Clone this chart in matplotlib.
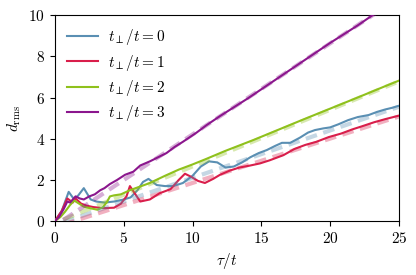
import numpy as np
import matplotlib
matplotlib.use("Agg")
import matplotlib.pyplot as plt
from matplotlib.ticker import FuncFormatter

plt.rcParams['mathtext.fontset'] = 'cm'
plt.rcParams['font.family'] = 'serif'
plt.rcParams['font.size'] = 9

# simulation curves (tau, d_rms)
tau_0 = [0, 0.5, 1.0, 1.4, 1.7, 2.1, 2.6, 3.0, 3.6, 4.3, 5.0, 5.5, 6.0, 6.4, 6.8, 7.4,
         8.0, 8.6, 9.3, 10.0, 10.6, 11.2, 11.8, 12.4, 13.0, 13.6, 14.2, 14.8, 15.4, 16.0,
         16.5, 17.1, 17.8, 18.4, 18.9, 19.5, 20.0, 20.6, 21.3, 22.0, 22.8, 23.4, 24.0, 24.5, 25.0]
d_0 = [0, 0.5, 1.42, 1.05, 1.25, 1.6, 1.05, 0.95, 0.9, 0.95, 1.05, 1.15, 1.5, 1.9, 2.05, 1.75,
       1.7, 1.7, 1.85, 2.2, 2.65, 2.9, 2.85, 2.6, 2.65, 2.85, 3.1, 3.3, 3.45, 3.65,
       3.8, 3.8, 4.05, 4.3, 4.42, 4.5, 4.55, 4.7, 4.9, 5.05, 5.15, 5.3, 5.42, 5.5, 5.6]

tau_1 = [0, 0.5, 0.9, 1.3, 1.5, 1.9, 2.3, 2.8, 3.5, 4.3, 4.8, 5.2, 5.45, 5.8, 6.2, 6.9,
         7.6, 8.4, 9.0, 9.45, 9.9, 10.4, 10.9, 11.5, 12.0, 12.7, 13.4, 14.2, 14.9, 15.6,
         16.6, 17.4, 18.2, 19.0, 19.9, 20.8, 21.6, 22.3, 23.2, 24.0, 25.0]
d_1 = [0, 0.5, 1.1, 0.9, 1.1, 0.85, 0.75, 0.68, 0.63, 0.65, 0.85, 1.2, 1.7, 1.35, 0.95, 1.05,
       1.35, 1.55, 2.0, 2.3, 2.15, 1.95, 1.85, 2.05, 2.25, 2.45, 2.6, 2.7, 2.8, 2.95,
       3.2, 3.5, 3.7, 3.85, 4.08, 4.25, 4.45, 4.6, 4.8, 4.95, 5.12]

tau_2 = [0, 0.4, 0.73, 1.1, 1.4, 1.75, 2.1, 2.6, 3.1, 3.5, 3.8, 4.0, 4.3, 4.8, 5.45, 6.2,
         6.9, 8.0, 9.0, 10.0, 11.0, 12.35, 14.4, 16.0, 18.0, 20.0, 22.0, 24.0, 25.0]
d_2 = [0, 0.2, 0.45, 0.78, 1.0, 0.85, 0.7, 0.62, 0.55, 0.68, 0.95, 1.2, 1.25, 1.3, 1.5, 1.68,
       1.85, 2.2, 2.5, 2.75, 3.02, 3.4, 3.93, 4.37, 4.92, 5.46, 6.0, 6.55, 6.82]

tau_3 = [0, 0.3, 0.65, 0.9, 1.1, 1.5, 1.8, 2.1, 2.5, 2.9, 3.3, 3.6, 4.0, 4.5, 5.1, 5.7,
         6.2, 6.9, 7.5, 8.1, 8.7, 9.3, 10.3, 11.0, 12.0, 14.0, 16.0, 18.0, 20.0, 22.0, 23.2, 25.0]
d_3 = [0, 0.2, 0.6, 0.95, 0.9, 1.2, 1.1, 1.05, 1.2, 1.3, 1.5, 1.6, 1.8, 1.99, 2.25, 2.4,
       2.7, 2.9, 3.1, 3.3, 3.6, 3.85, 4.3, 4.65, 5.1, 5.95, 6.85, 7.75, 8.65, 9.5, 10.05, 10.8]

# linear fits (dashed), start / end points
fit_tau = [0.6, 25.0]
fit_0 = [-0.06, 5.55]
fit_1 = [-0.17, 5.08]
fit_2 = [0.07, 6.78]
fit_3 = [0.05, 10.84]

labels = [r'$t_\perp/t = 0$', r'$t_\perp/t = 1$', r'$t_\perp/t = 2$', r'$t_\perp/t = 3$']
colors = ['#5a8fb3', '#d91e4b', '#8fc11c', '#8b168d']

fig = plt.figure(figsize=(4.16, 2.75), dpi=100)
ax = fig.add_axes([0.132, 0.196, 0.827, 0.749])

series = [(tau_0, d_0, fit_0), (tau_1, d_1, fit_1), (tau_2, d_2, fit_2), (tau_3, d_3, fit_3)]
for (t, d, f), c, lab in zip(series, colors, labels):
    ax.plot(t, d, color=c, lw=1.5, label=lab, zorder=3)
for (t, d, f), c in zip(series, colors):
    ax.plot(fit_tau, f, color=c, lw=3.0, alpha=0.35, dashes=(2.8, 1.6), zorder=4)

ax.set_xlim(0, 25)
ax.set_ylim(0, 10)
ax.set_xticks([0, 5, 10, 15, 20, 25])
ax.set_yticks([0, 2, 4, 6, 8, 10])
fmt = FuncFormatter(lambda v, p: r'$%d$' % v)
ax.xaxis.set_major_formatter(fmt)
ax.yaxis.set_major_formatter(fmt)
ax.tick_params(labelsize=11, length=3.5)
ax.set_xlabel(r'$\tau/t$', fontsize=11)
ax.set_ylabel(r'$d_{\rm rms}$', fontsize=11)

ax.legend(loc='upper left', frameon=False, fontsize=11, handlelength=2.0,
          handletextpad=0.7, borderaxespad=0.4, labelspacing=0.35)

fig.savefig('out.png', dpi=100)
